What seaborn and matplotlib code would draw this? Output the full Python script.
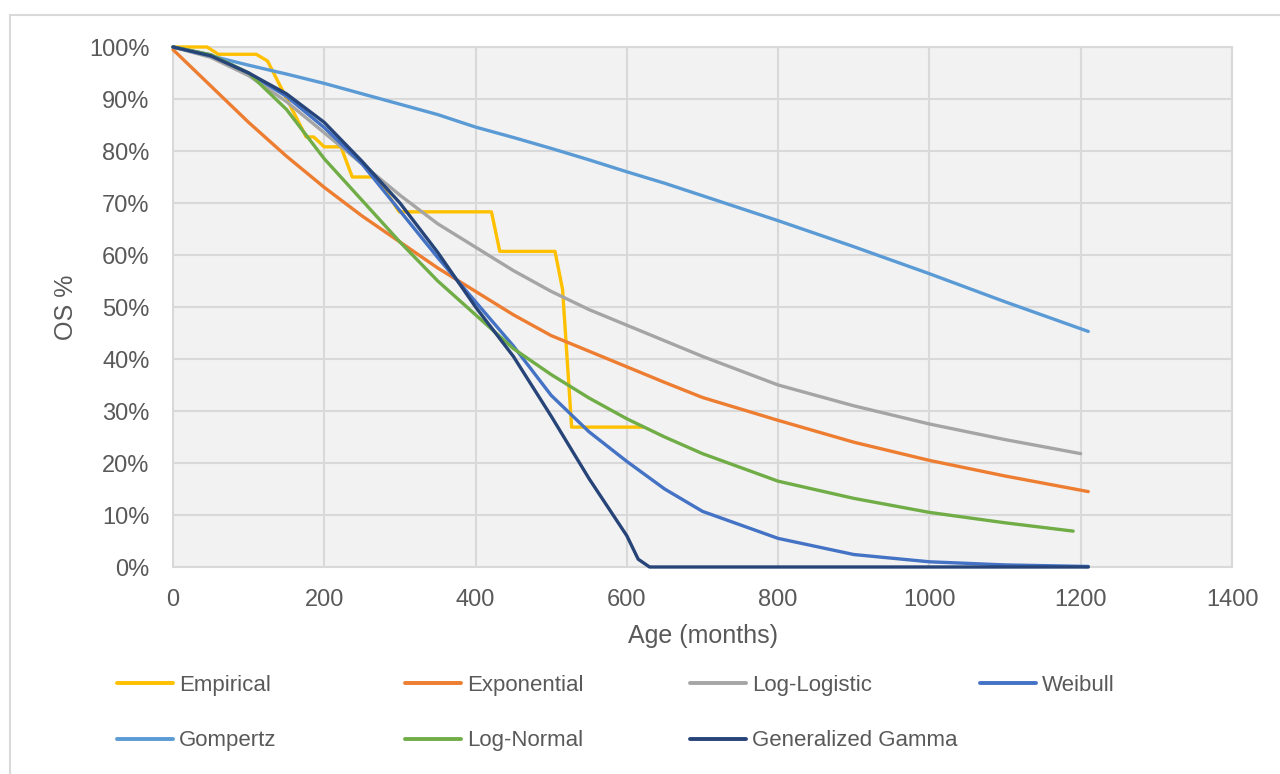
import pandas as pd
import matplotlib.pyplot as plt
import seaborn as sns
from matplotlib.lines import Line2D
from matplotlib.patches import Rectangle
from matplotlib.ticker import PercentFormatter


# values (OS in %)
emp_months = [0, 45, 60, 110, 125, 176, 186, 200, 222, 237, 269, 299, 421, 432, 505, 515, 527, 621]
emp_os = [100, 100, 98.6, 98.6, 97.3, 82.7, 82.7, 80.8, 80.8, 75, 75, 68.3, 68.3, 60.7, 60.7, 53.4, 26.9, 26.9]

months = [0, 50, 100, 150, 200, 250, 300, 350, 400, 450, 500, 550, 600, 650, 700, 800, 900, 1000, 1100, 1210]
expo_os = [99.5, 92.5, 85.5, 79, 73, 67.5, 62.5, 57.5, 53, 48.5, 44.5, 41.5, 38.5, 35.5, 32.6, 28.2, 24, 20.5, 17.5, 14.5]
gomp_os = [100, 98.3, 96.5, 94.8, 93, 91, 89, 87, 84.6, 82.6, 80.5, 78.3, 76, 73.8, 71.4, 66.6, 61.6, 56.4, 51, 45.3]
weib_os = [100, 98.5, 95, 90.5, 84.5, 77.5, 68.5, 59.5, 51, 42.5, 33, 26, 20.3, 15, 10.7, 5.5, 2.4, 1, 0.4, 0.1]

loglog_months = [0, 50, 100, 150, 200, 250, 300, 350, 400, 450, 500, 550, 600, 650, 700, 800, 900, 1000, 1100, 1200]
loglog_os = [100, 98, 94.5, 89.5, 83.5, 77.5, 71.5, 66, 61.5, 57, 53, 49.5, 46.5, 43.5, 40.5, 35, 31, 27.5, 24.5, 21.8]

lognorm_months = [0, 50, 100, 150, 200, 250, 300, 350, 400, 450, 500, 550, 600, 650, 700, 800, 900, 1000, 1100, 1190]
lognorm_os = [100, 98.5, 95, 88, 78.5, 70.5, 62.5, 55, 48.5, 42, 37, 32.5, 28.5, 25, 21.8, 16.5, 13.2, 10.5, 8.5, 6.9]

gg_months = [0, 50, 100, 150, 200, 250, 300, 350, 400, 450, 500, 550, 600, 615, 630, 700, 800, 900, 1000, 1100, 1210]
gg_os = [100, 98.3, 95, 91, 85.5, 78, 70, 60.5, 50, 40.5, 29, 17, 6, 1.5, 0, 0, 0, 0, 0, 0, 0]

models = ['Empirical', 'Exponential', 'Log-Logistic', 'Weibull', 'Gompertz', 'Log-Normal', 'Generalized Gamma']
colors = ['#FFC000', '#ED7D31', '#A5A5A5', '#4472C4', '#5B9BD5', '#70AD47', '#264478']

series = {
    'Empirical': (emp_months, emp_os),
    'Exponential': (months, expo_os),
    'Log-Logistic': (loglog_months, loglog_os),
    'Weibull': (months, weib_os),
    'Gompertz': (months, gomp_os),
    'Log-Normal': (lognorm_months, lognorm_os),
    'Generalized Gamma': (gg_months, gg_os),
}

frames = []
for name, (m, v) in series.items():
    frames.append(pd.DataFrame({'Month': m, 'OS': v, 'Model': name}))
df = pd.concat(frames, ignore_index=True)

sns.set_theme(style='white')
plt.rcParams['font.family'] = ['Liberation Sans', 'DejaVu Sans']
grey_txt = '#595959'

fig = plt.figure(figsize=(12.8, 7.74), dpi=100)
ax = fig.add_axes([173 / 1280, 1 - 567 / 774, 1059 / 1280, 520 / 774])
ax.set_facecolor('#F2F2F2')

# outer chart frame (runs off the right and bottom of the picture)
fig.patches.append(Rectangle((10 / 1280, -0.05), 1.2, 1 - 15 / 774 + 0.05, transform=fig.transFigure,
                             fill=False, edgecolor='#D9D9D9', lw=1.5, zorder=0))

sns.lineplot(data=df, x='Month', y='OS', hue='Model', hue_order=models, palette=colors,
             estimator=None, sort=False, lw=2.4, legend=False, ax=ax)
for line in ax.get_lines():
    line.set_clip_on(False)
    line.set_zorder(3)

ax.set_xlim(0, 1400)
ax.set_ylim(0, 100)
ax.set_xticks(range(0, 1401, 200))
ax.set_yticks(range(0, 101, 10))
ax.yaxis.set_major_formatter(PercentFormatter(decimals=0))
ax.grid(True, color='#D9D9D9', lw=1.5)
ax.set_axisbelow(True)
for s in ax.spines.values():
    s.set_color('#D9D9D9')
    s.set_linewidth(1.5)
ax.tick_params(axis='both', length=0, labelsize=17, labelcolor=grey_txt)
ax.tick_params(axis='y', pad=17)
ax.tick_params(axis='x', pad=16)

ax.set_xlabel('Age (months)', fontsize=18, color=grey_txt)
ax.set_ylabel('OS %', fontsize=18, color=grey_txt)
ax.xaxis.set_label_coords(0.5, -0.11)
ax.yaxis.set_label_coords(-0.09, 0.5)

# legend laid out like Excel: 4 equal columns, 2 rows
cols = [[0, 4], [1, 5], [2, 6], [3]]
col_x = [117, 405, 690, 980]
for idx, cx in zip(cols, col_x):
    handles = [Line2D([], [], color=colors[i], lw=2.8) for i in idx]
    labels = [models[i] for i in idx]
    leg = fig.legend(handles, labels, loc='upper left', bbox_to_anchor=(cx / 1280, 1 - 675 / 774),
                     frameon=False, fontsize=16, handlelength=2.5, handletextpad=0.28,
                     labelspacing=1.55, borderpad=0, borderaxespad=0)
    for t in leg.get_texts():
        t.set_color(grey_txt)

fig.savefig('out.png', dpi=100)
